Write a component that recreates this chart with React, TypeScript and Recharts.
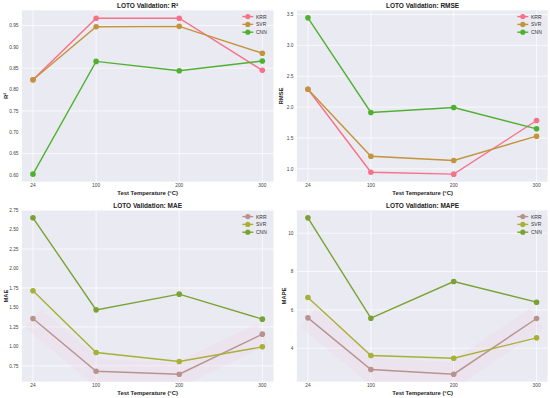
import React from 'react';
import { LineChart, Line, XAxis, YAxis, CartesianGrid } from 'recharts';

const temps = [24, 100, 200, 300];
const tempTicks = [24, 100, 200, 300];
const seriesNames = ['KRR', 'SVR', 'CNN'];

const r2KRR = [0.823, 0.967, 0.967, 0.845];
const r2SVR = [0.823, 0.947, 0.948, 0.885];
const r2CNN = [0.602, 0.866, 0.844, 0.867];

const rmseKRR = [2.29, 0.946, 0.914, 1.783];
const rmseSVR = [2.29, 1.205, 1.135, 1.529];
const rmseCNN = [3.446, 1.913, 1.994, 1.648];

const maeKRR = [1.358, 0.681, 0.643, 1.157];
const maeSVR = [1.714, 0.921, 0.806, 0.994];
const maeCNN = [2.651, 1.469, 1.671, 1.35];

const mapeKRR = [5.583, 2.887, 2.643, 5.548];
const mapeSVR = [6.643, 3.617, 3.478, 4.539];
const mapeCNN = [10.8, 5.565, 7.478, 6.4];

const r2Ticks = [0.6, 0.65, 0.7, 0.75, 0.8, 0.85, 0.9, 0.95];
const rmseTicks = [1.0, 1.5, 2.0, 2.5, 3.0, 3.5];
const maeTicks = [0.75, 1.0, 1.25, 1.5, 1.75, 2.0, 2.25, 2.5, 2.75];
const mapeTicks = [4, 6, 8, 10];

const topColors = ['#f77189', '#c4933a', '#50b131'];
const bottomColors = ['#b8938d', '#a8b035', '#7aa232'];

const FONT = '"Liberation Sans", Arial, sans-serif';

type PanelProps = {
  x: number;
  y: number;
  title: string;
  ylabel: string;
  ylabelX: number;
  krr: number[];
  svr: number[];
  cnn: number[];
  ticks: number[];
  domain: [number, number];
  fmt: (v: number) => string;
  colors: string[];
  marginTop: number;
  marginRight: number;
  halo?: boolean;
};

function Panel(p: PanelProps) {
  const data = temps.map((t, i) => ({ t, KRR: p.krr[i], SVR: p.svr[i], CNN: p.cnn[i] }));
  const xh = 199 - p.marginTop - 172;
  return (
    <div style={{ position: 'absolute', left: p.x, top: p.y, width: 275, height: 199 }}>
      <LineChart
        width={275}
        height={199}
        data={data}
        margin={{ top: p.marginTop, right: p.marginRight, bottom: 0, left: 0 }}
      >
        <CartesianGrid fill="#eaeaf2" stroke="#ffffff" strokeWidth={0.7} />
        <XAxis
          dataKey="t"
          type="number"
          domain={[10.2, 313.8]}
          ticks={tempTicks}
          height={xh}
          axisLine={false}
          tickLine={false}
          tickSize={0}
          tickMargin={2}
          tick={{ fontSize: 4.8, fill: '#444', fontFamily: FONT }}
          allowDataOverflow
        />
        <YAxis
          type="number"
          domain={p.domain}
          ticks={p.ticks}
          width={21.5}
          axisLine={false}
          tickLine={false}
          tickSize={0}
          tickMargin={3}
          tickFormatter={p.fmt}
          tick={{ fontSize: 4.8, fill: '#444', fontFamily: FONT }}
          allowDataOverflow
        />
        {p.halo && (
          <Line
            dataKey="KRR"
            stroke="#f5a3c4"
            strokeOpacity={0.1}
            strokeWidth={24}
            strokeLinejoin="round"
            dot={false}
            activeDot={false}
            legendType="none"
            isAnimationActive={false}
          />
        )}
        {seriesNames.map((n, i) => (
          <Line
            key={n}
            dataKey={n}
            stroke={p.colors[i]}
            strokeWidth={1.4}
            dot={{ r: 2.8, fill: p.colors[i], stroke: p.colors[i], strokeWidth: 0 }}
            activeDot={false}
            isAnimationActive={false}
          />
        ))}
      </LineChart>
      <svg
        width={275}
        height={199}
        style={{ position: 'absolute', left: 0, top: 0, pointerEvents: 'none' }}
      >
        <text
          x={147.6}
          y={p.marginTop - 5}
          textAnchor="middle"
          dominantBaseline="central"
          fontFamily={FONT}
          fontWeight="bold"
          fontSize={6.5}
          fill="#222"
        >
          {p.title}
        </text>
        <text
          x={147.6}
          y={p.marginTop + 183.3}
          textAnchor="middle"
          dominantBaseline="central"
          fontFamily={FONT}
          fontWeight="bold"
          fontSize={5.9}
          fill="#222"
        >
          Test Temperature (°C)
        </text>
        <text
          x={p.ylabelX}
          y={p.marginTop + 86}
          textAnchor="middle"
          dominantBaseline="central"
          fontFamily={FONT}
          fontWeight="bold"
          fontSize={5.9}
          fill="#222"
          transform={`rotate(-90 ${p.ylabelX} ${p.marginTop + 86})`}
        >
          {p.ylabel}
        </text>
        {seriesNames.map((n, i) => {
          const cy = p.marginTop + 6.6 + i * 7.8;
          return (
            <g key={n}>
              <line x1={242.3} x2={253.3} y1={cy} y2={cy} stroke={p.colors[i]} strokeWidth={1.4} />
              <circle cx={247.8} cy={cy} r={2.6} fill={p.colors[i]} />
              <text
                x={256}
                y={cy}
                dominantBaseline="central"
                fontFamily={FONT}
                fontSize={5}
                fill="#333"
              >
                {n}
              </text>
            </g>
          );
        })}
      </svg>
    </div>
  );
}

export default function App() {
  return (
    <div style={{ position: 'absolute', left: 0, top: 0, width: 550, height: 398, background: '#fff' }}>
      <Panel
        x={0}
        y={0}
        title="LOTO Validation: R²"
        ylabel="R²"
        ylabelX={6}
        krr={r2KRR}
        svr={r2SVR}
        cnn={r2CNN}
        ticks={r2Ticks}
        domain={[0.5836, 0.9863]}
        fmt={(v) => v.toFixed(2)}
        colors={topColors}
        marginTop={10}
        marginRight={1.2}
      />
      <Panel
        x={275}
        y={0}
        title="LOTO Validation: RMSE"
        ylabel="RMSE"
        ylabelX={6}
        krr={rmseKRR}
        svr={rmseSVR}
        cnn={rmseCNN}
        ticks={rmseTicks}
        domain={[0.787, 3.573]}
        fmt={(v) => v.toFixed(1)}
        colors={topColors}
        marginTop={10}
        marginRight={2}
      />
      <Panel
        x={0}
        y={199}
        title="LOTO Validation: MAE"
        ylabel="MAE"
        ylabelX={5.5}
        krr={maeKRR}
        svr={maeSVR}
        cnn={maeCNN}
        ticks={maeTicks}
        domain={[0.543, 2.751]}
        fmt={(v) => v.toFixed(2)}
        colors={bottomColors}
        marginTop={11}
        marginRight={1.2}
        halo
      />
      <Panel
        x={275}
        y={199}
        title="LOTO Validation: MAPE"
        ylabel="MAPE"
        ylabelX={9}
        krr={mapeKRR}
        svr={mapeSVR}
        cnn={mapeCNN}
        ticks={mapeTicks}
        domain={[2.235, 11.21]}
        fmt={(v) => String(Math.round(v))}
        colors={bottomColors}
        marginTop={11}
        marginRight={2}
        halo
      />
    </div>
  );
}
